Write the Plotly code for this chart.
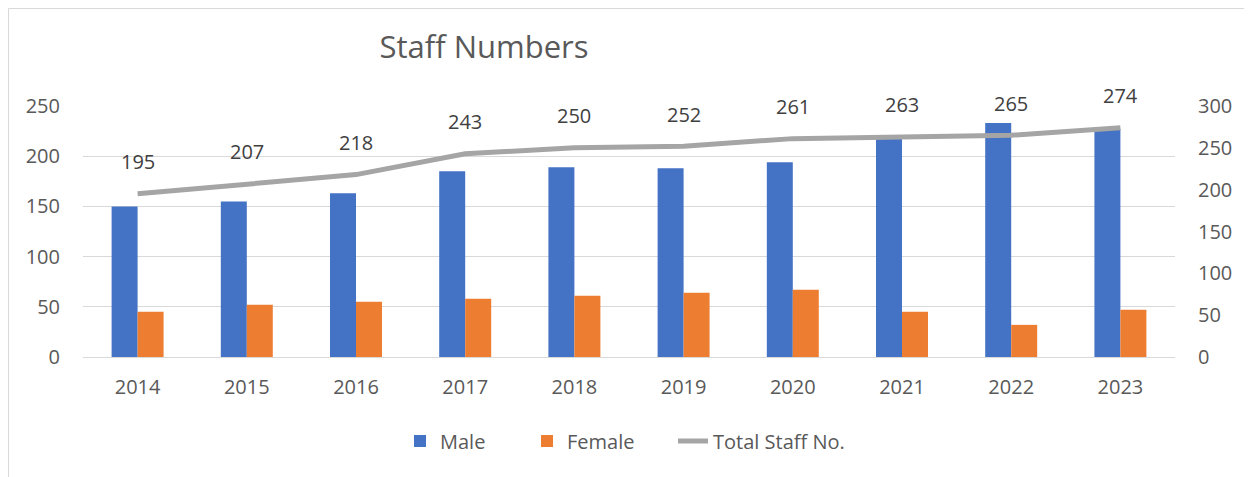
import plotly.graph_objects as go

years = ["2014", "2015", "2016", "2017", "2018", "2019", "2020", "2021", "2022", "2023"]
male = [150, 155, 163, 185, 189, 188, 194, 218, 233, 227]
female = [45, 52, 55, 58, 61, 64, 67, 45, 32, 47]
total = [195, 207, 218, 243, 250, 252, 261, 263, 265, 274]

# page body adds an 8px offset, so the figure is sized to the remaining area
OFF = 8
W, H = 1252 - OFF, 477 - OFF
L, T = 83 - OFF, 106 - OFF
PW, PH = 1092, 251
R = W - L - PW
B = H - T - PH
FONT = "Open Sans"
TXT = "#595959"

fig = go.Figure()
fig.add_trace(go.Bar(x=years, y=male, name="Male", marker=dict(color="#4472C4", line=dict(width=0)),
                     offsetgroup="m", yaxis="y", legend="legend"))
fig.add_trace(go.Bar(x=years, y=female, name="Female", marker=dict(color="#ED7D31", line=dict(width=0)),
                     offsetgroup="f", yaxis="y", legend="legend2"))
fig.add_trace(go.Scatter(x=years, y=total, name="Total Staff No.", mode="lines",
                         line=dict(color="#A5A5A5", width=5), yaxis="y2", legend="legend3"))

# data labels: category index on the category axis
for i, t in enumerate(total):
    fig.add_annotation(x=i, y=t, xref="x", yref="y2", text=str(t), showarrow=False, yshift=32,
                       font=dict(family=FONT, size=20, color="#404040"))

# chart border
fig.add_shape(type="rect", xref="paper", yref="paper",
              x0=(0.5 - L) / PW, x1=(1248 - OFF - L) / PW,
              y0=-(B + 40) / PH, y1=1 + (T - 0.5) / PH,
              line=dict(color="#D9D9D9", width=1), fillcolor="rgba(0,0,0,0)", layer="below")


def leg(text_x):
    return dict(orientation="h", x=(text_x - 40 - OFF - L) / PW, xanchor="left",
                y=-(441 - OFF - (H - B)) / PH, yanchor="middle",
                font=dict(family=FONT, size=20, color=TXT), bgcolor="rgba(0,0,0,0)")


fig.update_layout(
    width=W, height=H,
    margin=dict(l=L, r=R, t=T, b=B),
    paper_bgcolor="white", plot_bgcolor="white",
    barmode="group", bargap=0.524, bargroupgap=0,
    font=dict(family=FONT, color=TXT, size=20),
    title=dict(text="Staff Numbers", x=(484 - OFF - L) / PW, xref="paper", xanchor="center",
               y=1 - (47 - OFF) / H, yref="container", yanchor="middle",
               font=dict(family=FONT, size=31, color=TXT)),
    xaxis=dict(type="category", range=[-0.5, len(years) - 0.5], showline=True, linecolor="#D9D9D9",
               linewidth=1, ticks="", showgrid=False, tickfont=dict(size=20, color=TXT),
               ticklabelstandoff=12),
    yaxis=dict(range=[0, 250], dtick=50, showgrid=True, gridcolor="#D9D9D9", gridwidth=1,
               zeroline=False, tickfont=dict(size=20, color=TXT), ticklabelstandoff=22),
    yaxis2=dict(range=[0, 300], dtick=50, overlaying="y", side="right", showgrid=False,
                zeroline=False, tickfont=dict(size=20, color=TXT), ticklabelstandoff=22),
    legend=leg(440),
    legend2=leg(567),
    legend3=leg(713),
    showlegend=True,
)

fig.write_html("out.html")
